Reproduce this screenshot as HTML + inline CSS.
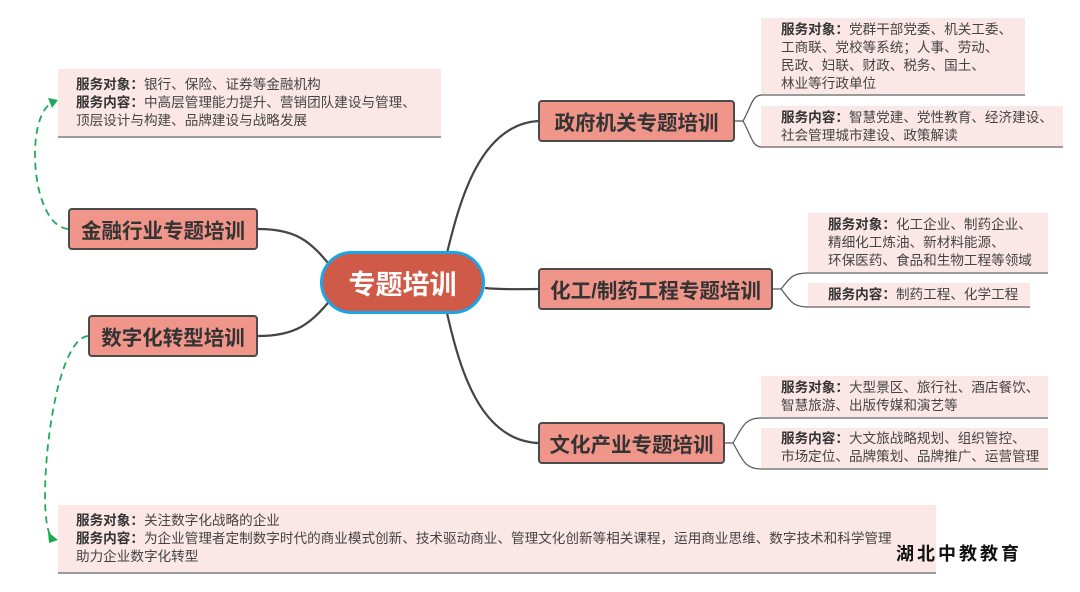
<!DOCTYPE html>
<html><head><meta charset="utf-8"><style>
*{margin:0;padding:0;box-sizing:border-box}
body{width:1080px;height:592px;background:#fff;position:relative;overflow:hidden;font-family:"Liberation Sans","Noto Sans CJK SC",sans-serif}
.n{position:absolute;background:#f0958a;border:2px solid #4a4a4a;border-radius:4px;color:#333;font-weight:bold;font-size:20.5px;display:flex;align-items:center;justify-content:center;white-space:nowrap}
.t{position:absolute;background:#fbe7e6;border-bottom:2px solid #9a9a9a;color:#444;font-size:13.6px;line-height:18px;padding:0 0 0 18px;white-space:nowrap}
.t b{color:#333}
svg{position:absolute;left:0;top:0}
</style></head><body>
<svg width="1080" height="592">
<g fill="none" stroke="#444" stroke-width="2.2">
<path d="M332,268 C310,240 295,229 258,229"/>
<path d="M332,298 C310,325 295,336 258,336"/>
<path d="M447,253 C460,200 480,125 538,121"/>
<path d="M485,288 C505,290 520,289 538,289"/>
<path d="M447,313 C460,370 480,440 538,443"/>
</g>
<g fill="none" stroke="#555" stroke-width="1.2">
<path d="M735,121 H743 C752,105 752,95 762,95 M743,121 C752,137 752,147 762,147"/>
<path d="M773,289 H781 C790,278 792,273 808,273 M781,289 C790,300 792,307 808,307"/>
<path d="M725,443 H733 C742,428 744,418 761,418 M733,443 C742,458 744,469 761,469"/>
</g>
<g fill="none" stroke="#1daa55" stroke-width="1.8" stroke-dasharray="7,5">
<path d="M68,229 C30,225 25,115 52,103"/>
<path d="M88,336 C50,340 35,525 52,537"/>
</g>
<path d="M58,100 L48,98 L52,108 Z" fill="#1daa55"/>
<path d="M58,540 L48,532 L49,543 Z" fill="#1daa55"/>
</svg>

<div class="t" style="left:58px;top:69px;width:383px;height:69px;padding-top:7px"><b>服务对象：</b>银行、保险、证券等金融机构<br><b>服务内容：</b>中高层管理能力提升、营销团队建设与管理、<br>顶层设计与构建、品牌建设与战略发展</div>

<div class="n" style="left:68px;top:208px;width:190px;height:42px">金融行业专题培训</div>
<div class="n" style="left:88px;top:315px;width:170px;height:42px">数字化转型培训</div>

<div style="position:absolute;left:320px;top:251px;width:165px;height:63px;border-radius:32px;background:#d05a48;border:3px solid #1aa6e6;color:#fff;font-weight:bold;font-size:27px;display:flex;align-items:center;justify-content:center">专题培训</div>

<div class="n" style="left:538px;top:100px;width:197px;height:42px">政府机关专题培训</div>
<div class="n" style="left:538px;top:268px;width:235px;height:42px">化工/制药工程专题培训</div>
<div class="n" style="left:538px;top:422px;width:187px;height:42px">文化产业专题培训</div>

<div class="t" style="left:761px;top:18px;width:264px;height:78px;padding-left:20px;padding-top:3px"><b>服务对象：</b>党群干部党委、机关工委、<br>工商联、党校等系统；人事、劳动、<br>民政、妇联、财政、税务、国土、<br>林业等行政单位</div>
<div class="t" style="left:761px;top:106px;width:302px;height:42px;padding-left:20px;padding-top:3px"><b>服务内容：</b>智慧党建、党性教育、经济建设、<br>社会管理城市建设、政策解读</div>

<div class="t" style="left:808px;top:213px;width:240px;height:61px;padding-left:20px;padding-top:3px"><b>服务对象：</b>化工企业、制药企业、<br>精细化工炼油、新材料能源、<br>环保医药、食品和生物工程等领域</div>
<div class="t" style="left:808px;top:283px;width:222px;height:25px;padding-left:20px;padding-top:3px"><b>服务内容：</b>制药工程、化学工程</div>

<div class="t" style="left:761px;top:376px;width:287px;height:43px;padding-left:20px;padding-top:3px"><b>服务对象：</b>大型景区、旅行社、酒店餐饮、<br>智慧旅游、出版传媒和演艺等</div>
<div class="t" style="left:761px;top:428px;width:287px;height:42px;padding-left:20px;padding-top:2px"><b>服务内容：</b>大文旅战略规划、组织管控、<br>市场定位、品牌策划、品牌推广、运营管理</div>

<div class="t" style="left:58px;top:505px;width:878px;height:69px;padding-top:7px"><b>服务对象：</b>关注数字化战略的企业<br><b>服务内容：</b>为企业管理者定制数字时代的商业模式创新、技术驱动商业、管理文化创新等相关课程，运用商业思维、数字技术和科学管理<br>助力企业数字化转型</div>

<div style="position:absolute;left:896px;top:540px;font-size:18px;font-weight:bold;color:#111;letter-spacing:3px;white-space:nowrap">湖北中教教育</div>
</body></html>
